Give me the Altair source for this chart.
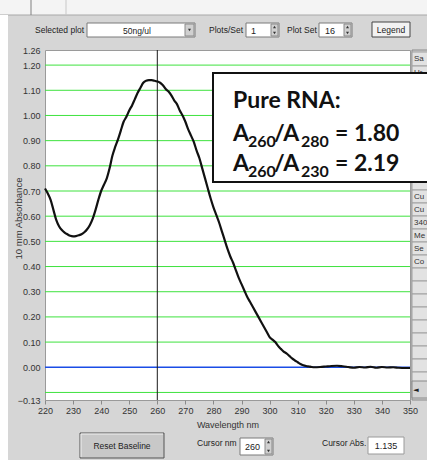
import altair as alt
import pandas as pd

# ---------------- data ----------------
wavelength = [220, 221, 222, 223, 224, 225, 226, 227, 228, 229, 230, 231, 232, 233, 234, 235,
              236, 237, 238, 239, 240, 241, 242, 243, 244, 245, 246, 247, 248, 249, 250, 251,
              252, 253, 254, 255, 256, 257, 258, 259, 260, 261, 262, 263, 264, 265, 266, 267,
              268, 269, 270, 271, 272, 273, 274, 275, 276, 277, 278, 279, 280, 281, 282, 283,
              284, 285, 286, 287, 288, 289, 290, 291, 292, 293, 294, 295, 296, 297, 298, 299,
              300, 301, 302, 303, 304, 305, 306, 307, 308, 309, 310, 311, 312, 313, 314, 315,
              316, 318, 320, 322, 324, 326, 328, 330, 332, 334, 336, 338, 340, 342, 344, 346,
              348, 350]
absorbance = [0.71, 0.69, 0.665, 0.625, 0.585, 0.56, 0.545, 0.535, 0.528, 0.522, 0.520, 0.521,
              0.524, 0.528, 0.536, 0.548, 0.565, 0.59, 0.625, 0.665, 0.70, 0.725, 0.75, 0.79,
              0.84, 0.875, 0.905, 0.94, 0.975, 0.995, 1.02, 1.04, 1.065, 1.09, 1.11, 1.13,
              1.138, 1.14, 1.14, 1.138, 1.135, 1.13, 1.12, 1.105, 1.095, 1.08, 1.06, 1.045,
              1.02, 1.0, 0.975, 0.945, 0.92, 0.895, 0.86, 0.83, 0.79, 0.75, 0.71, 0.67,
              0.635, 0.605, 0.575, 0.54, 0.505, 0.47, 0.44, 0.415, 0.385, 0.355, 0.33, 0.305,
              0.28, 0.26, 0.24, 0.22, 0.2, 0.18, 0.16, 0.14, 0.12, 0.11, 0.1, 0.085,
              0.073, 0.062, 0.055, 0.045, 0.035, 0.027, 0.02, 0.013, 0.008, 0.005, 0.003, 0.001,
              0.0, 0.001, 0.003, 0.005, 0.006, 0.004, 0.001, -0.002, 0.001, -0.001, 0.002, -0.002,
              0.001, -0.001, 0.0, -0.002, -0.003, -0.003]
x_ticks = [220, 230, 240, 250, 260, 270, 280, 290, 300, 310, 320, 330, 340, 350]
y_ticks = [1.26, 1.2, 1.1, 1.0, 0.9, 0.8, 0.7, 0.6, 0.5, 0.4, 0.3, 0.2, 0.1, 0.0, -0.13]
grid_lines = [1.2, 1.1, 1.0, 0.9, 0.8, 0.7, 0.6, 0.5, 0.4, 0.3, 0.2, 0.1, -0.1]
baseline_value = [0.0]
cursor_nm = [260]
cursor_abs = "1.135"
panel_top = ["Sa", "Ur"]
panel_bottom = ["", "Cu", "Cu", "340", "Me", "Se", "Co", "", "", "", "", "", "", "", "", ""]

# ---------------- layout ----------------
L, T = 45, 50          # plot origin in page pixels
W, H = 365, 350        # plot size
NARROW = "Liberation Sans Narrow, Liberation Sans, Arial, sans-serif"
GRAY = "#d6d6d6"
dummy = alt.Data(values=[{"a": 1}])


def box(x1, y1, x2, y2, fill, stroke=None, sw=1):
    kw = dict(fill=fill)
    if stroke:
        kw.update(stroke=stroke, strokeWidth=sw)
    else:
        kw.update(strokeWidth=0)
    return alt.Chart(dummy).mark_rect(**kw).encode(
        x=alt.value(x1 - L), x2=alt.value(x2 - L), y=alt.value(y1 - T), y2=alt.value(y2 - T))


def label(x, y, s, size=8.5, align="left", baseline="middle", font=NARROW,
          weight="normal", color="#222"):
    return alt.Chart(dummy).mark_text(
        text=s, fontSize=size, align=align, baseline=baseline, font=font,
        fontWeight=weight, color=color).encode(x=alt.value(x - L), y=alt.value(y - T))


def tri(x, y, shape):
    return alt.Chart(dummy).mark_point(shape=shape, filled=True, size=9, color="#333",
                                       opacity=1).encode(x=alt.value(x - L), y=alt.value(y - T))


def vline(x, y1, y2, color, w=1):
    return alt.Chart(dummy).mark_rule(color=color, strokeWidth=w).encode(
        x=alt.value(x - L), y=alt.value(y1 - T), y2=alt.value(y2 - T))


def hline(x1, x2, y, color, w=1):
    return alt.Chart(dummy).mark_rule(color=color, strokeWidth=w).encode(
        x=alt.value(x1 - L), x2=alt.value(x2 - L), y=alt.value(y - T))


def spinbox(x1, y1, x2, y2, txt, tx):
    return [box(x1, y1, x2, y2, "white", "#7a7a7a"),
            label(tx, (y1 + y2) / 2 + 0.5, txt, size=9),
            box(x2 - 8, y1 + 1, x2 - 1, y2 - 1, "#d0d0d0", "#8a8a8a"),
            tri(x2 - 4.5, y1 + 4, "triangle-up"),
            tri(x2 - 4.5, y2 - 4, "triangle-down")]


ui = []
# outer white strips and top tab band
ui.append(box(0, 0, 427, 15, "#f4f4f4"))
ui.append(hline(0, 427, 15, "#a8a8a8"))
ui.append(vline(31, 0, 15, "#808080"))
ui.append(vline(66, 0, 15, "#c8c8c8"))
ui.append(box(0, 15, 8, 462, "white"))
ui.append(box(0, 460, 427, 462, "white"))
# top widgets
ui.append(label(35, 30, "Selected plot"))
ui.append(box(87, 23, 195, 37, "white", "#7a7a7a"))
ui.append(label(137, 30.5, "50ng/ul", align="center"))
ui.append(box(185, 24, 194, 36, "#d0d0d0", "#8a8a8a"))
ui.append(tri(189.5, 30, "triangle-down"))
ui.append(label(209, 30, "Plots/Set"))
ui += spinbox(246, 23, 279, 37, "1", 251)
ui.append(label(287, 30, "Plot Set"))
ui += spinbox(319, 23, 352, 37, "16", 325)
ui.append(box(372, 22, 410, 37, "#f2f2f2", "#444"))
ui.append(label(391, 30, "Legend", align="center"))
# bottom widgets
ui.append(box(80, 433, 164, 458, "#c8c8c8", "#555"))
ui.append(hline(81, 163, 434, "#f0f0f0"))
ui.append(vline(81, 434, 457, "#f0f0f0"))
ui.append(label(122, 446, "Reset Baseline", align="center"))
ui.append(label(197, 443, "Cursor nm"))
ui += spinbox(240, 438, 273, 455, str(cursor_nm[0]), 245)
ui.append(label(322, 443, "Cursor Abs."))
ui.append(box(368, 437, 404, 454, "white", "#9a9a9a"))
ui.append(label(386, 445.5, cursor_abs, align="center", size=9))

# right-hand results panel
panel = [box(412, 50, 430, 400, "#d0d0d0", "#8a8a8a")]
cy = 52
for name in panel_top:
    panel.append(box(412, cy, 430, cy + 14, "#e2e2e2", "#a0a0a0"))
    if name:
        panel.append(label(414, cy + 7, name, size=8, color="#333"))
    cy += 14
cy = 177
for name in panel_bottom:
    panel.append(box(412, cy, 430, cy + 13, "#e2e2e2", "#a0a0a0"))
    if name:
        panel.append(label(414, cy + 6.5, name, size=8, color="#333"))
    cy += 13
    if cy > 372:
        break
panel.append(box(412, 381, 430, 398, "#d4d4d4", "#8a8a8a"))
panel.append(label(416, 390, "\u25c4", size=7, align="center", font="DejaVu Sans"))

# ---------------- chart ----------------
xs = alt.Scale(domain=[220, 350], nice=False, zero=False)
ys = alt.Scale(domain=[-0.13, 1.26], nice=False, zero=False)

xaxis = alt.Axis(values=x_ticks, format="d", title="Wavelength nm", grid=False, domain=False,
                 tickColor="#8a8a8a", tickSize=4, labelPadding=2, labelFlush=False,
                 labelFont=NARROW, labelFontSize=9, labelColor="#333",
                 titleFont=NARROW, titleFontSize=9, titleFontWeight="normal",
                 titleColor="#333", titlePadding=5, labelOverlap=False)
yaxis = alt.Axis(values=y_ticks, format=".2f", title="10 mm Absorbance", grid=False,
                 domain=False, ticks=False, labelPadding=5, labelFont=NARROW,
                 labelFontSize=9, labelColor="#333", labelOverlap=False, labelFlush=False,
                 titleFont=NARROW, titleFontSize=9.5, titleFontWeight="normal",
                 titleColor="#333", titleX=-27, titleY=168, titleAngle=270,
                 titleAlign="center", titleBaseline="middle")

df = pd.DataFrame({"nm": wavelength, "A": absorbance})
grid = alt.Chart(pd.DataFrame({"v": grid_lines})).mark_rule(
    color="#3ee23e", strokeWidth=1).encode(y=alt.Y("v:Q", scale=ys, axis=yaxis))
zero = alt.Chart(pd.DataFrame({"v": baseline_value})).mark_rule(
    color="#1a4de6", strokeWidth=1.6).encode(y=alt.Y("v:Q", scale=ys, axis=yaxis))
cursor = alt.Chart(pd.DataFrame({"c": cursor_nm})).mark_rule(
    color="#1a1a1a", strokeWidth=1).encode(x=alt.X("c:Q", scale=xs, axis=xaxis))
curve = alt.Chart(df).mark_line(color="#111", strokeWidth=2.2, interpolate="monotone").encode(
    x=alt.X("nm:Q", scale=xs, axis=xaxis), y=alt.Y("A:Q", scale=ys, axis=yaxis))

# annotation box
BF = "Lato"
note = [box(213, 73, 432, 182, "white", "#111", 2),
        label(233, 108, "Pure RNA:", size=23, baseline="alphabetic", font=BF, weight="bold", color="#111")]
for base, sub2, val in [(141, "280", "= 1.80"), (171, "230", "= 2.19")]:
    note.append(label(233, base, "A", size=23, baseline="alphabetic", font=BF, weight="bold", color="#111"))
    note.append(label(248, base + 6, "260", size=16, baseline="alphabetic", font=BF, weight="bold", color="#111"))
    note.append(label(274, base, "/A", size=23, baseline="alphabetic", font=BF, weight="bold", color="#111"))
    note.append(label(301, base + 6, sub2, size=16, baseline="alphabetic", font=BF, weight="bold", color="#111"))
    note.append(label(335, base, val, size=23, baseline="alphabetic", font=BF, weight="bold", color="#111"))

chart = alt.layer(*ui, grid, zero, cursor, curve, *panel, *note).properties(
    width=W, height=H,
    padding={"left": L, "top": T, "right": 427 - L - W, "bottom": 462 - T - H},
    autosize=alt.AutoSizeParams(type="none"),
).configure(background=GRAY).configure_view(fill="white", stroke="#9a9a9a", strokeWidth=1)

chart.save("out.html", embed_options={"renderer": "svg", "actions": False})
